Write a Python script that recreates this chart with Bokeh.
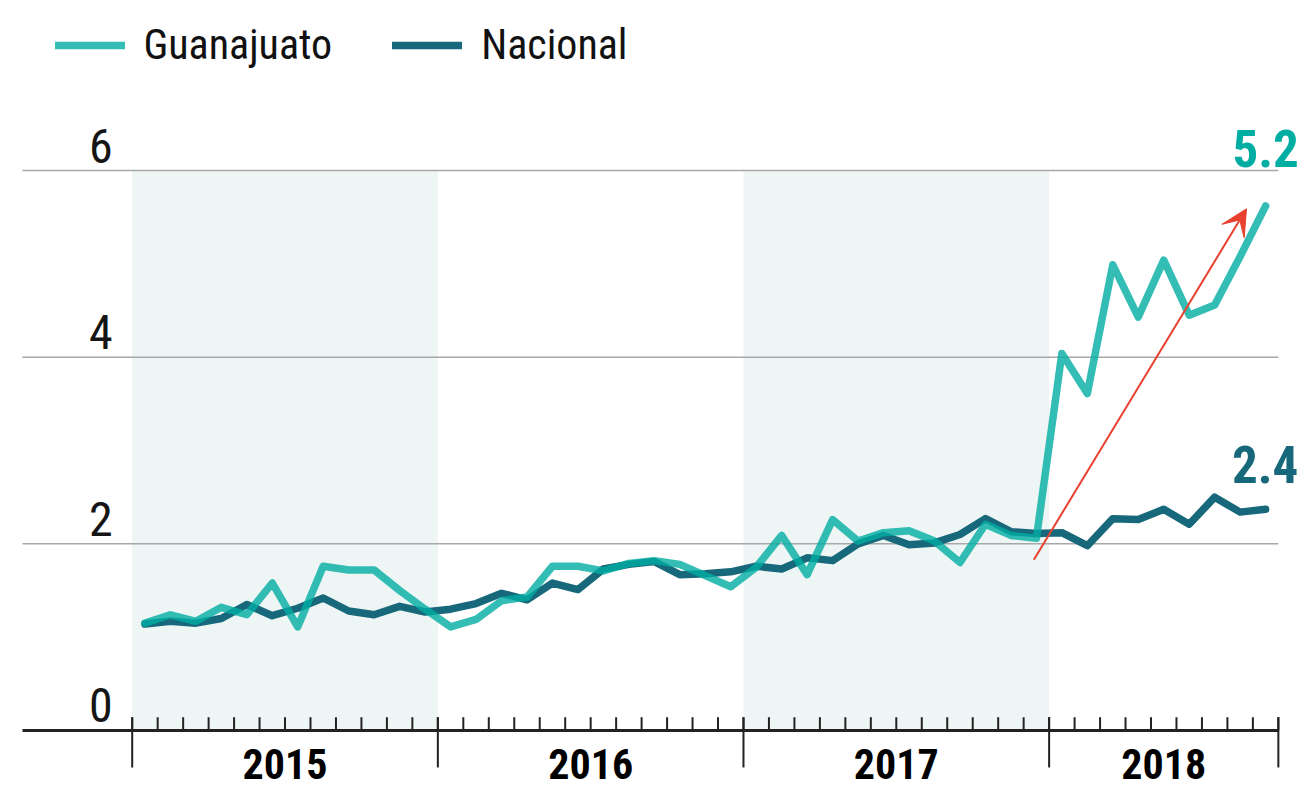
from bokeh.plotting import figure
from bokeh.models import Range1d, Legend, LegendItem, Arrow, VeeHead
from bokeh.core.properties import value
from bokeh.embed import file_html
from bokeh.resources import INLINE

# ---- data ----
month_index = list(range(45))  # Jan 2015 .. Sep 2018
guanajuato = [1.15, 1.24, 1.17, 1.32, 1.24, 1.58, 1.11, 1.76, 1.72, 1.72, 1.50, 1.30,
              1.11, 1.19, 1.39, 1.43, 1.76, 1.76, 1.71, 1.79, 1.82, 1.78, 1.66, 1.54,
              1.75, 2.09, 1.67, 2.26, 2.03, 2.12, 2.14, 2.03, 1.80, 2.21, 2.09, 2.06,
              4.04, 3.61, 4.99, 4.43, 5.04, 4.45, 4.56, 5.08, 5.62]
nacional = [1.14, 1.17, 1.15, 1.20, 1.35, 1.23, 1.31, 1.42, 1.28, 1.24, 1.33, 1.27,
            1.30, 1.36, 1.47, 1.40, 1.58, 1.51, 1.73, 1.78, 1.81, 1.67, 1.68, 1.70,
            1.76, 1.73, 1.85, 1.82, 2.00, 2.09, 1.99, 2.01, 2.10, 2.27, 2.13, 2.11,
            2.12, 1.98, 2.27, 2.26, 2.37, 2.21, 2.50, 2.34, 2.37]
years = ["2015", "2016", "2017", "2018"]
year_start = [0, 12, 24, 36]
year_end = [12, 24, 36, 45]
y_ticks = [0, 2, 4, 6]
y_tick_labels = ["0", "2", "4", "6"]
label_guanajuato = "5.2"
label_nacional = "2.4"
arrow_start = (35.40, 1.83)
arrow_end = (43.75, 5.59)

FONT = "'Roboto Condensed', 'Liberation Sans Narrow', Roboto, sans-serif"
TEAL = "#00ADA2"
DARK = "#17687A"

x = [m + 0.5 for m in month_index]

p = figure(width=1309, height=790,
           x_range=Range1d(-5.171, 46.223), y_range=Range1d(-0.643, 7.822),
           x_axis_type=None, y_axis_type=None,
           toolbar_location=None, output_backend="svg",
           min_border=0, outline_line_color=None)
p.background_fill_color = "white"

# shaded bands (2015, 2017)
p.quad(left=[year_start[0], year_start[2]], right=[year_end[0], year_end[2]],
       bottom=0, top=6, fill_color="#EEF5F5", line_color=None)

# gridlines
x_left = -4.307
x_right = year_end[-1]
grid_vals = y_ticks[1:]
p.segment(x0=[x_left] * len(grid_vals), x1=[x_right] * len(grid_vals),
          y0=grid_vals, y1=grid_vals, line_color="#A8A8A8", line_width=1.5)

# y labels (sit above their gridline)
p.text(x=[-0.77] * 4, y=[t + 0.268 for t in y_ticks], text=y_tick_labels, text_align="right",
       text_baseline="middle", text_font=value(FONT),
       text_font_size="48px", text_color="#151515")

# lines
ln = p.line(x, nacional, line_color=DARK, line_width=7.5, line_join="round", line_cap="round")
lg = p.line(x, guanajuato, line_color=TEAL, line_alpha=0.8, line_width=7.5,
            line_join="round", line_cap="round")

# x axis line and ticks
p.segment(x0=[x_left], x1=[x_right], y0=[0], y1=[0], line_color="#222222", line_width=3)
minor = list(range(0, year_end[-1] + 1))
p.segment(x0=minor, x1=minor, y0=[0] * len(minor), y1=[0.142] * len(minor),
          line_color="#222222", line_width=2)
major = year_start + [year_end[-1]]
p.segment(x0=major, x1=major, y0=[0.142] * len(major), y1=[-0.396] * len(major),
          line_color="#222222", line_width=2)

# year labels
p.text(x=[(a + b) / 2 for a, b in zip(year_start, year_end)], y=[-0.36] * 4, text=years,
       text_align="center", text_baseline="middle", text_font=value(FONT),
       text_font_style="bold", text_font_size="42px", text_color="#000000")

# arrow
p.add_layout(Arrow(end=VeeHead(size=26, fill_color="#E8412F", line_color="#E8412F"),
                   x_start=arrow_start[0], y_start=arrow_start[1],
                   x_end=arrow_end[0], y_end=arrow_end[1],
                   line_color="#E8412F", line_width=2))

# end value labels
p.text(x=[44.5], y=[6.241], text=[label_guanajuato], text_align="center",
       text_baseline="middle", text_font=value(FONT), text_font_style="bold",
       text_font_size="51px", text_color=TEAL)
p.text(x=[44.48], y=[2.855], text=[label_nacional], text_align="center",
       text_baseline="middle", text_font=value(FONT), text_font_style="bold",
       text_font_size="51px", text_color=DARK)

# legend
legend = Legend(items=[LegendItem(label="Guanajuato", renderers=[lg]),
                       LegendItem(label="Nacional", renderers=[ln])],
                orientation="horizontal", location=(54.5, 720.7),
                border_line_color=None, background_fill_alpha=0,
                padding=0, margin=0, spacing=60, glyph_width=70, glyph_height=42,
                label_height=42, label_standoff=19,
                label_text_font=FONT, label_text_font_size="42px",
                label_text_color="#111111")
p.add_layout(legend)

open("out.html", "w").write(file_html(p, INLINE))
